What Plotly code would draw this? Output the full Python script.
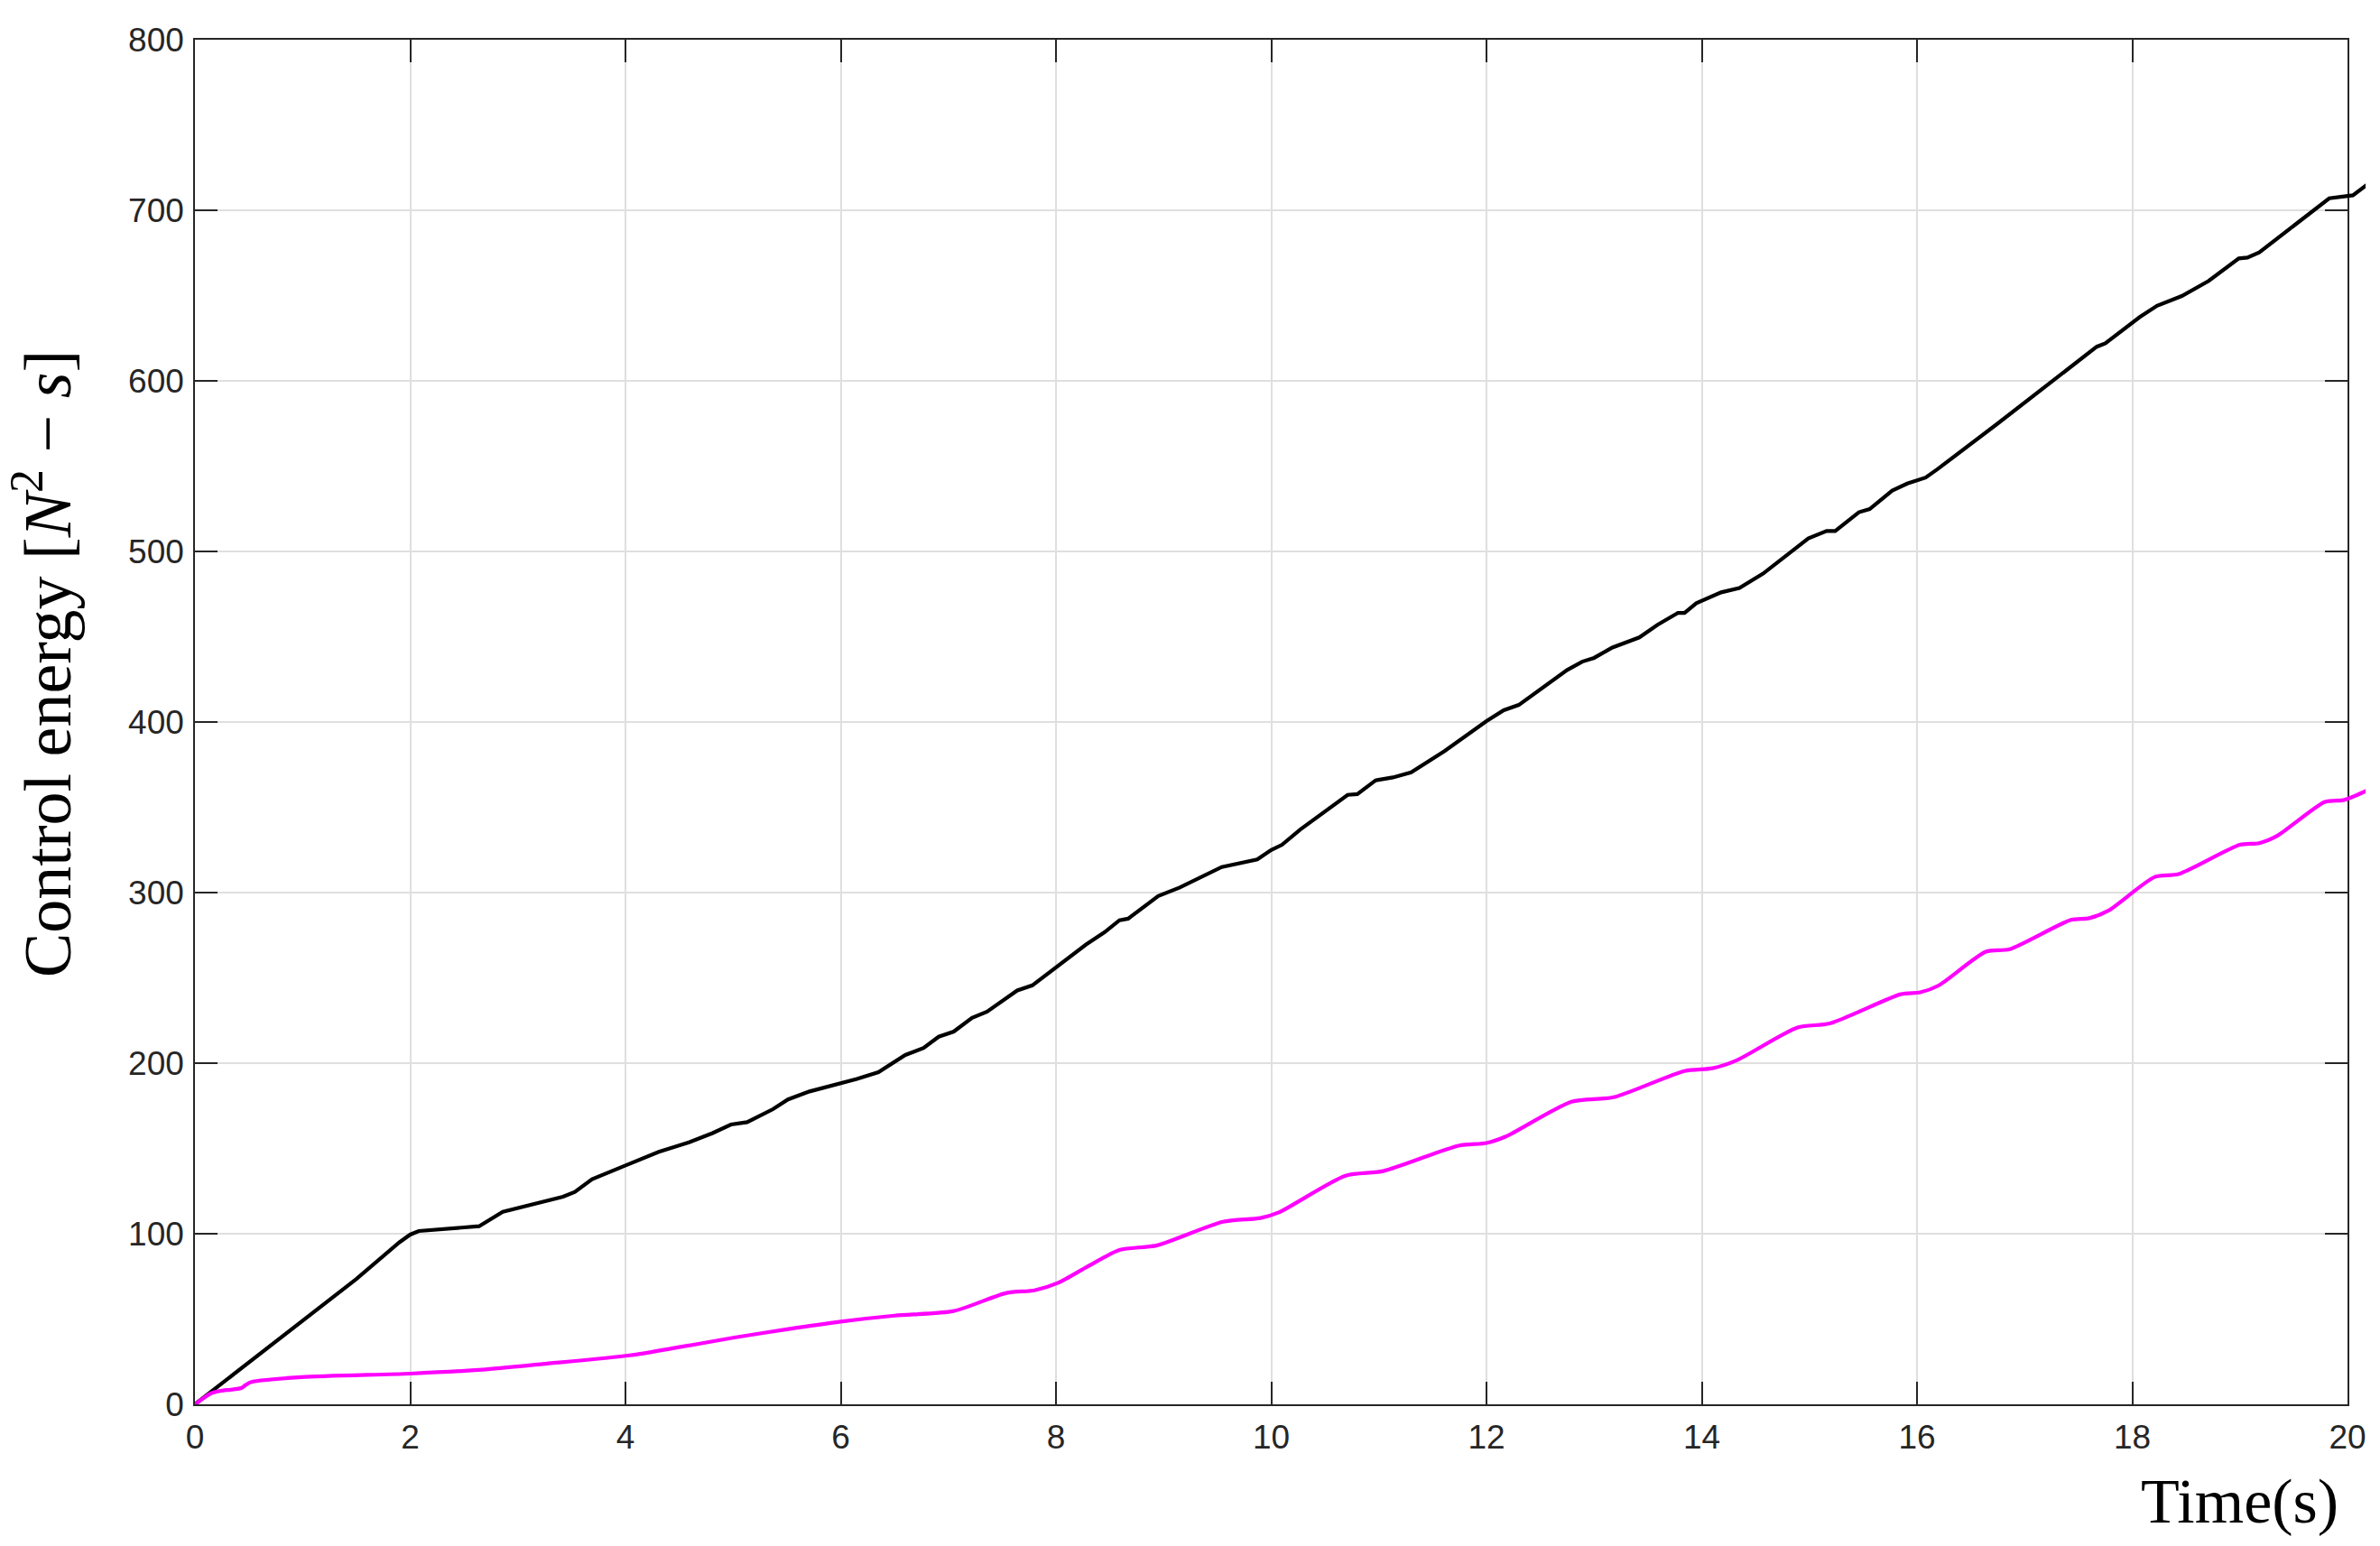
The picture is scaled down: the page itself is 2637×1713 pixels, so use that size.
import plotly.graph_objects as go

# black curve: time (s) and control energy
t_black = [0, 0.5, 1.0, 1.5, 1.9, 2.0, 2.08, 2.3, 2.61, 2.64, 2.86, 3.11, 3.42, 3.53,
           3.69, 4.0, 4.31, 4.59, 4.81, 4.98, 5.13, 5.37, 5.51, 5.71, 5.96, 6.15,
           6.35, 6.6, 6.77, 6.91, 7.05, 7.22, 7.36, 7.64, 7.78, 8.0, 8.28, 8.45,
           8.59, 8.67, 8.95, 9.15, 9.54, 9.87, 10.0, 10.1, 10.27, 10.71, 10.8,
           10.97, 11.13, 11.3, 11.38, 11.61, 12.0, 12.16, 12.3, 12.58, 12.75,
           12.89, 13.0, 13.17, 13.42, 13.59, 13.78, 13.84, 13.95, 14.18, 14.35,
           14.57, 14.77, 14.99, 15.16, 15.24, 15.46, 15.56, 15.77, 15.91, 16.08,
           16.19, 16.75, 17.31, 17.42, 17.67, 17.75, 18.0, 18.07, 18.23, 18.46,
           18.71, 18.99, 19.07, 19.18, 19.83, 19.99, 20.05, 20.18]
e_black = [0, 24.5, 49, 73.5, 95, 99.5, 101.6, 102.6, 104.2, 104.4, 112.9, 117, 121.7,
           124.5, 132, 140, 148, 153.6, 159, 164, 165.4, 173, 178.7, 183.4, 187.5,
           190.7, 194.7, 204.8, 208.9, 215.5, 218.5, 226.6, 230.2, 242.6, 245.6,
           256.3, 269.6, 276.7, 283.8, 284.7, 298, 303, 315, 319.4, 325, 328, 337,
           357.3, 357.7, 365.8, 367.5, 370.5, 373.7, 382.9, 400.5, 406.9, 410,
           422.6, 430.5, 435.4, 437.6, 443.7, 449.6, 457, 464, 464, 469.7, 476,
           478.5, 487, 496.7, 507.6, 512, 512, 523, 524.8, 535.7, 539.8, 543.3,
           548.2, 575, 602.3, 608, 620, 622, 633.5, 637.4, 644, 649.7, 658.6,
           671.8, 672.3, 675.3, 707, 708, 708.8, 715]

# magenta curve
t_magenta = [0, 0.15, 0.23, 0.43, 0.47, 0.52, 0.99, 2.0, 2.67, 3.23, 4.04, 4.5, 5.0,
             5.5, 6.0, 6.5, 7.05, 7.54, 7.8, 8.02, 8.3, 8.59, 8.94, 9.55, 9.9, 10.07,
             10.69, 11.04, 11.74, 12.0, 12.18, 12.79, 13.18, 13.84, 14.1, 14.32,
             14.89, 15.19, 15.85, 16.03, 16.2, 16.64, 16.86, 17.43, 17.6, 17.78,
             18.21, 18.43, 19.0, 19.18, 19.35, 19.79, 19.97, 20.18]
e_magenta = [0, 6.5, 7.8, 9.5, 11.3, 13, 15.9, 18, 20.3, 23.6, 28.7, 33.5, 39,
             44, 48.5, 52, 54.7, 65.3, 66.8, 71.2, 81, 90.5, 93.2, 107, 109.2, 112.5,
             134, 136.7, 151.6, 153.2, 157, 177.4, 180, 195.4, 197, 201.5,
             220.9, 223.3, 240.4, 241.5, 245.5, 265.3, 266.8, 284, 285, 289.5,
             309.2, 310.8, 328, 329, 333.4, 353.2, 354.3, 359.8]

x_ticks = list(range(0, 21, 2))
y_ticks = list(range(0, 801, 100))

# the page body adds an 8px margin, so the figure is a bit smaller than the window
W, H = 2621, 1697
left, right_axis, top, bottom = 208, 2593, 36, 1548
r_margin = 8
plot_w = W - left - r_margin
dom = (right_axis - left) / plot_w

fig = go.Figure()
# keeps the framed subplot alive
fig.add_trace(go.Scatter(x=[0], y=[0], mode="markers", marker=dict(opacity=0),
                         hoverinfo="skip", showlegend=False))
# curves sit on a hidden, slightly wider subplot so they run past the frame
fig.add_trace(go.Scatter(x=t_black, y=e_black, mode="lines", xaxis="x2", yaxis="y2",
                         line=dict(color="#000000", width=4.2), showlegend=False))
fig.add_trace(go.Scatter(x=t_magenta, y=e_magenta, mode="lines", xaxis="x2", yaxis="y2",
                         line=dict(color="#ff00ff", width=4.2, shape="spline", smoothing=0.7),
                         showlegend=False))

axis_style = dict(
    showline=True, linecolor="#262626", linewidth=1.5, mirror="ticks",
    ticks="inside", ticklen=25, tickwidth=1.5, tickcolor="#262626",
    showgrid=True, gridcolor="#dfdfdf", gridwidth=1.5, zeroline=False,
    automargin=False,
    tickfont=dict(family="Liberation Sans, Arial", size=37, color="#262626"),
)

fig.update_layout(
    width=W, height=H,
    margin=dict(l=left, r=r_margin, t=top, b=H - bottom),
    paper_bgcolor="white", plot_bgcolor="rgba(0,0,0,0)",
    xaxis=dict(range=[0, 20], domain=[0, dom], tickvals=x_ticks, anchor="y",
               ticklabelstandoff=3, **axis_style),
    yaxis=dict(range=[0, 800], domain=[0, 1], tickvals=y_ticks, anchor="x",
               ticklabelstandoff=3, **axis_style),
    xaxis2=dict(range=[0, 20 / dom], domain=[0, 1], visible=False, anchor="y2"),
    yaxis2=dict(range=[0, 800], domain=[0, 1], visible=False, anchor="x2"),
    annotations=[
        dict(text="Time(s)", xref="paper", yref="paper", x=dom, y=0,
             xanchor="right", yanchor="middle", xshift=-8, yshift=-107,
             showarrow=False,
             font=dict(family="Liberation Serif, Times New Roman", size=70, color="black")),
        dict(text="Control energy [<i>N</i><sup>2</sup> \u2212 <i>s</i>]",
             xref="paper", yref="paper", x=0, y=(bottom - 728) / (bottom - top),
             xanchor="center", yanchor="middle", xshift=-169, textangle=-90,
             showarrow=False,
             font=dict(family="Liberation Serif, Times New Roman", size=74, color="black")),
    ],
)

fig.write_html("out.html")
